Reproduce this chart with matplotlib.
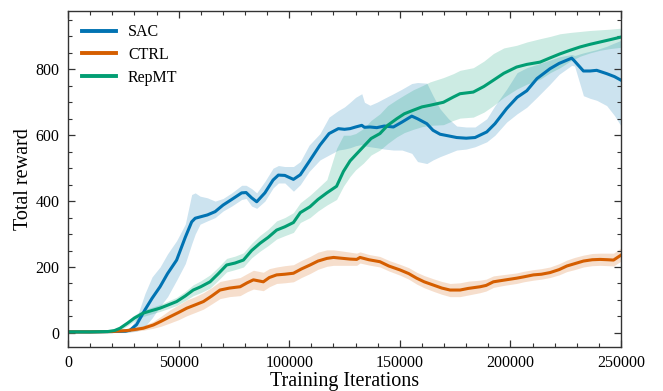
import matplotlib
matplotlib.use("Agg")
import matplotlib.pyplot as plt
from matplotlib.ticker import MultipleLocator
import numpy as np

plt.rcParams['font.family'] = ['Liberation Serif', 'DejaVu Serif']

# ---------------- data ----------------
sac_x = [0, 10000, 20000, 26000, 28000, 31000, 34800, 38000, 41600, 45000, 49100, 53000,
         55900, 57500, 59700, 63000, 66500, 70100, 74000, 78500, 80500, 83000, 85300, 89000,
         92700, 95100, 98000, 101900, 105000, 109000, 113900, 118000, 122200, 125000, 127500,
         130000, 132800, 134000, 136500, 139600, 143000, 147100, 151000, 155400, 158000,
         162200, 165000, 168200, 172000, 175700, 180000, 184000, 189300, 193000, 198300,
         203000, 207400, 212000, 217900, 222000, 227700, 229000, 233000, 236000, 239000,
         243500, 247000, 250000]
sac_mean = [3, 3, 4, 5, 8, 25, 70, 105, 140, 180, 221, 290,
            337, 348, 352, 358, 368, 388, 405, 425, 426, 410, 398, 425,
            464, 479, 478, 466, 480, 520, 570, 605, 620, 618, 620,
            625, 630, 624, 625, 623, 628, 625, 640, 658, 650,
            635, 615, 603, 598, 593, 591, 593, 610, 635, 681,
            715, 735, 772, 802, 818, 834, 825, 795, 795, 797,
            787, 778, 767]
sac_lo = [0, 0, 1, 1, 2, 5, 20, 45, 80, 110, 160, 210,
          270, 300, 330, 340, 350, 370, 385, 405, 408, 385, 378, 400,
          440, 455, 455, 430, 450, 490, 525, 540, 555, 558, 562,
          568, 572, 568, 565, 562, 558, 555, 555, 545, 520,
          514, 525, 535, 545, 555, 558, 565, 580, 600, 640,
          665, 685, 715, 755, 785, 812, 810, 720, 712, 706,
          690, 660, 628]
sac_hi = [6, 6, 7, 9, 14, 45, 120, 170, 200, 240, 280, 330,
          420, 425, 415, 410, 400, 408, 425, 448, 448, 438, 425, 460,
          500, 508, 505, 505, 520, 570, 605, 655, 675, 686, 700,
          715, 726, 700, 691, 700, 712, 726, 740, 757, 760,
          758, 720, 680, 650, 628, 625, 625, 650, 690, 740,
          790, 805, 815, 828, 838, 845, 842, 850, 855, 860,
          870, 880, 888]

ctrl_x = [0, 10000, 20000, 26500, 30000, 34000, 38600, 42000, 46100, 50000, 53700, 57500,
          61200, 65000, 68700, 73000, 77800, 81000, 83800, 88300, 91000, 94300, 98000,
          101900, 105500, 109400, 113000, 117000, 120000, 124500, 127500, 130500, 132000,
          136000, 141000, 145000, 150100, 154000, 157600, 161000, 165200, 169000, 172700,
          177200, 181000, 186300, 189000, 192300, 197000, 202800, 206000, 210400, 214000,
          217900, 222000, 225500, 229000, 233000, 237000, 240600, 244000, 246600, 250000]
ctrl_mean = [3, 3, 4, 7, 10, 14, 24, 35, 49, 62, 75, 85,
             95, 112, 130, 136, 140, 152, 161, 155, 168, 176, 178,
             181, 194, 206, 218, 226, 229, 226, 224, 223, 229,
             222, 216, 203, 191, 180, 166, 155, 145, 136, 130,
             130, 135, 140, 144, 155, 160, 166, 170, 176, 178,
             183, 192, 203, 210, 218, 222, 223, 222, 221, 236]
ctrl_lo = [0, 0, 1, 3, 5, 8, 14, 20, 30, 40, 52, 62,
           72, 88, 104, 110, 113, 125, 133, 128, 140, 150, 152,
           155, 168, 180, 193, 202, 205, 205, 205, 205, 212,
           206, 200, 188, 175, 163, 148, 137, 126, 117, 110,
           110, 115, 122, 127, 138, 144, 150, 155, 160, 163,
           168, 176, 186, 192, 200, 204, 205, 204, 203, 218]
ctrl_hi = [6, 6, 8, 12, 16, 22, 35, 50, 70, 85, 100, 110,
           122, 138, 156, 162, 168, 180, 190, 184, 195, 200, 204,
           207, 220, 232, 245, 252, 252, 248, 245, 242, 246,
           238, 232, 220, 208, 198, 184, 174, 164, 156, 150,
           152, 157, 160, 163, 173, 177, 182, 187, 192, 195,
           200, 210, 221, 229, 236, 241, 242, 242, 242, 258]

rep_x = [0, 10000, 18000, 21000, 23500, 27000, 30000, 34000, 38000, 41600, 45000, 49100,
         53000, 56600, 60000, 64200, 68000, 71700, 75500, 79300, 83000, 86800, 90500,
         94300, 98000, 101900, 105000, 109400, 113000, 117000, 121400, 124500, 127500,
         130000, 133500, 137000, 141000, 144500, 148600, 152000, 156100, 160000, 163700,
         169700, 174200, 177200, 183200, 188000, 192300, 197000, 202800, 207400, 213400,
         218000, 222400, 227000, 231500, 236000, 240500, 245000, 250000]
rep_mean = [3, 3, 4, 7, 14, 30, 45, 60, 68, 75, 84, 95,
            112, 130, 140, 155, 180, 206, 212, 221, 250, 272, 290,
            312, 322, 335, 365, 383, 405, 425, 445, 490, 522,
            540, 565, 590, 605, 630, 650, 665, 676, 686, 691,
            700, 716, 726, 731, 748, 767, 788, 807, 815, 822,
            835, 847, 858, 868, 876, 883, 890, 898]
rep_lo = [0, 0, 1, 3, 8, 22, 36, 50, 58, 65, 73, 83,
          98, 113, 122, 136, 160, 185, 192, 200, 228, 248, 265,
          285, 295, 305, 335, 350, 370, 388, 405, 445, 475,
          495, 515, 540, 555, 575, 595, 608, 618, 626, 630,
          632, 645, 652, 655, 670, 690, 715, 740, 755, 770,
          790, 805, 825, 840, 850, 858, 863, 867]
rep_hi = [6, 6, 8, 12, 20, 38, 54, 70, 78, 86, 96, 108,
          126, 146, 158, 176, 200, 226, 233, 243, 272, 296, 315,
          340, 350, 365, 395, 418, 440, 465, 560, 600, 600,
          605, 620, 645, 665, 690, 708, 722, 738, 750, 762,
          775, 787, 797, 805, 825, 848, 865, 873, 883, 893,
          900, 908, 912, 915, 918, 920, 922, 925]

labels = ['SAC', 'CTRL', 'RepMT']
colors = ['#0173B2', '#D55E00', '#029E73']
xticks = [0, 50000, 100000, 150000, 200000, 250000]
yticks = [0, 200, 400, 600, 800]

# ---------------- plot ----------------
fig = plt.figure(figsize=(6.63, 3.91), dpi=100)
ax = fig.add_axes([0.1026, 0.1133, 0.8341, 0.8593])

series = [(sac_x, sac_mean, sac_lo, sac_hi),
          (ctrl_x, ctrl_mean, ctrl_lo, ctrl_hi),
          (rep_x, rep_mean, rep_lo, rep_hi)]
for (x, m, lo, hi), lab, c in zip(series, labels, colors):
    ax.fill_between(x, lo, hi, color=c, alpha=0.2, linewidth=0)
for (x, m, lo, hi), lab, c in zip(series, labels, colors):
    ax.plot(x, m, color=c, lw=2.2, label=lab)

ax.set_xlim(0, 250000)
ax.set_ylim(-42, 978)
ax.set_xticks(xticks)
ax.set_xticklabels([str(t) for t in xticks])
ax.set_yticks(yticks)
ax.xaxis.set_minor_locator(MultipleLocator(10000))
ax.yaxis.set_minor_locator(MultipleLocator(50))
ax.tick_params(which='both', direction='in', top=True, right=True, labelsize=11.5,
               color='#333333')
ax.tick_params(which='major', length=5, width=0.9, pad=6)
ax.tick_params(which='minor', length=2.8, width=0.8)
for s in ax.spines.values():
    s.set_linewidth(1.0)
    s.set_color('#333333')

ax.set_xlabel('Training Iterations', fontsize=14.5, labelpad=1)
ax.set_ylabel('Total reward', fontsize=14.5, labelpad=2)

leg = ax.legend(loc='upper left', frameon=False, fontsize=11.5, handlelength=2.15,
                handletextpad=0.75, labelspacing=0.42, borderaxespad=0.45)
for h in leg.get_lines():
    h.set_linewidth(2.8)

fig.savefig('out.png', dpi=100)
